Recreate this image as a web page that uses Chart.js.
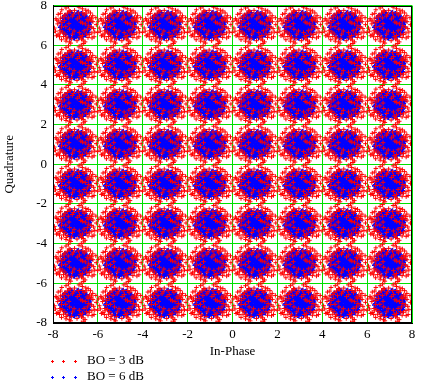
<!DOCTYPE html>
<html lang="en">
<head>
    <meta charset="UTF-8">
    <title>64-QAM constellation</title>
    <script src="https://cdn.jsdelivr.net/npm/chart.js"></script>
    <style>
        html, body { margin: 0; padding: 0; background: #fff; }
        #wrap { width: 421px; height: 389px; }
    </style>
</head>
<body>
<div id="wrap"><canvas id="qam" width="421" height="389"></canvas></div>
<script>
// constellation levels on both axes
var levels = [-7, -5, -3, -1, 1, 3, 5, 7];
var tickStep = 2;
var seriesLabels = ['BO = 3 dB', 'BO = 6 dB'];

// spread of the received symbols around each ideal point, read off the clouds
// BO = 3 dB: wider fringe
var redA = [
    [0.57,0.23],[-0.61,0.14],[0.13,0.63],[-0.17,-0.67],[0.49,-0.43],[-0.47,0.53],[0.71,-0.09],[-0.69,-0.27],[0.33,0.64],[-0.37,-0.59],
    [0.63,0.41],[-0.66,0.37],[0.27,-0.69],[-0.23,0.71],[0.78,0.19],[-0.79,0.08],[0.07,-0.77],[-0.04,0.76],[0.56,-0.61],[-0.53,-0.56],
    [0.44,0.08],[-0.43,-0.06],[0.18,0.43],[-0.13,-0.44],[0.38,-0.27],[-0.32,0.38],[0.86,-0.33],[-0.87,0.34],[0.46,0.77],[-0.42,-0.79],
    [0.67,0.63],[-0.71,-0.57],[0.24,0.17],[-0.26,-0.19],[0.52,0.31],[-0.49,0.24],[0.31,-0.51],[-0.09,0.57],[0.73,-0.38],[-0.66,0.61],
    [0.93,0.04],[-0.94,-0.13],[0.16,0.92],[-0.21,-0.89],[0.59,-0.02],[-0.57,-0.33],[0.39,0.53],[-0.47,-0.43],[0.77,0.49],[-0.78,-0.47]
];
var redB = [
    [0.53,-0.19],[-0.36,0.62],[0.21,-0.57],[-0.62,-0.07],[0.08,0.33],[-0.06,-0.28],[0.32,0.12],[-0.29,0.09],[0.83,-0.57],[-0.61,0.79],
    [0.43,-0.83],[-0.84,-0.52],[0.69,0.27],[-0.74,0.22],[0.17,-0.36],[-0.14,0.47],[1.02,0.21],[-0.31,0.97],[0.26,-0.99],[-1.01,-0.36],
    [0.72,0.36],[-0.68,-0.39],[0.34,-0.74],[-0.28,0.74],[0.81,-0.16],[-0.83,0.27],[0.31,0.84],[-0.27,-0.83],[0.57,0.73],[-0.62,-0.72],
    [0.74,-0.63],[-0.77,0.56],[0.91,0.39],[-0.89,-0.29],[0.37,-0.91],[-0.42,0.88],[0.48,0.62],[-0.52,0.44],[0.62,-0.46],[-0.41,-0.68]
];
// BO = 6 dB: tight blob
var blueA = [
    [0.03,-0.07],[0.17,0.11],[-0.13,0.19],[-0.21,-0.09],[0.27,-0.18],[0.09,0.29],[-0.31,0.13],[-0.07,-0.33],[0.36,0.07],[-0.26,-0.27],
    [0.13,-0.23],[-0.17,0.37],[0.41,0.23],[-0.39,-0.11],[0.23,0.43],[-0.03,0.14],[0.07,-0.41],[-0.44,0.26],[0.31,-0.37],[-0.23,0.03],
    [0.47,-0.06],[-0.12,-0.17],[0.19,0.04],[-0.34,0.41],[0.02,0.47],[-0.49,-0.29],[0.38,0.37],[-0.08,0.27],[0.11,-0.13],[-0.29,-0.43],
    [0.53,0.14],[-0.53,0.07],[0.16,-0.52],[-0.14,0.53],[0.44,-0.31],[-0.41,-0.37],[0.29,0.19],[-0.19,-0.01],[0.06,0.38],[0.24,-0.08],
    [-0.36,0.22],[0.14,0.21],[-0.04,-0.46],[0.33,-0.26],[-0.27,0.31],[0.57,-0.21],[-0.58,-0.16],[0.21,0.56],[-0.22,-0.56],[0.49,0.33]
];
var blueB = [
    [-0.01,0.03],[0.08,0.16],[-0.09,-0.13],[0.22,-0.04],[-0.18,0.09],[0.12,-0.29],[-0.06,0.22],[0.31,0.27],[-0.33,-0.19],[0.26,0.09],
    [-0.24,0.23],[0.04,-0.21],[0.37,-0.14],[-0.42,0.04],[0.18,0.33],[-0.11,-0.28],[0.42,0.11],[-0.31,0.36],[0.09,-0.36],[-0.16,0.29],
    [0.28,-0.44],[-0.46,-0.22],[0.47,0.27],[-0.06,0.43],[0.14,0.13],[-0.21,-0.36],[0.34,0.47],[-0.38,0.17],[0.21,-0.16],[-0.12,0.06],
    [0.51,-0.13],[-0.51,0.19],[0.03,-0.53],[-0.27,0.48],[0.39,-0.41],[-0.44,-0.44],[0.23,0.26],[-0.16,-0.07],[0.07,0.07],[0.31,-0.03],
    [-0.32,-0.04],[0.12,0.48],[-0.02,-0.12],[0.44,0.02],[-0.37,0.29],[0.61,0.06],[-0.62,-0.03],[0.08,0.61],[-0.09,-0.61],[0.56,-0.34]
];
var blueC = [
    [0.59,0.24],[-0.56,0.36],[0.46,-0.47],[-0.54,-0.31],[0.27,0.59],[-0.33,0.56],[0.33,-0.57],[-0.24,-0.62],[0.64,-0.07],[-0.63,0.13],
    [0.13,0.64],[-0.04,-0.63],[0.42,0.51],[-0.47,0.49],[0.52,-0.27],[-0.59,-0.22],[0.16,-0.61],[-0.17,0.64],[0.66,0.17],[-0.66,-0.09],
    [0.37,0.09],[-0.28,-0.14],[0.19,-0.31],[-0.11,0.41],[0.26,0.38],[-0.41,-0.06],[0.01,0.26],[0.48,0.42],[-0.46,0.13],[0.11,-0.47]
];

// put a cloud on every constellation point
function buildPoints(clouds) {
    var pts = [];
    levels.forEach(function (i) {
        levels.forEach(function (q) {
            clouds.forEach(function (cloud) {
                cloud.forEach(function (d) {
                    pts.push({ x: i + d[0], y: q + d[1] });
                });
            });
        });
    });
    return pts;
}

var serif = '"Liberation Serif", "Times New Roman", serif';

// legend drawn by hand: three small crosses and a label per row, under the axis
var sideLegend = {
    id: 'sideLegend',
    afterDraw: function (chart) {
        var ctx = chart.ctx;
        ctx.save();
        chart.data.datasets.forEach(function (ds, k) {
            var y = 361 + k * 16;
            ctx.fillStyle = ds.borderColor;
            [52, 63, 75].forEach(function (x) {
                ctx.fillRect(x - 1, y, 3, 1);
                ctx.fillRect(x, y - 1, 1, 3);
            });
            ctx.fillStyle = '#000';
            ctx.font = '13px ' + serif;
            ctx.textBaseline = 'middle';
            ctx.fillText(ds.label, 87, y);
        });
        ctx.restore();
    }
};

var ctx = document.getElementById('qam').getContext('2d');
var chart = new Chart(ctx, {
    type: 'scatter',
    data: {
        datasets: [{
            label: seriesLabels[0],
            data: buildPoints([redA, redB]),
            pointStyle: 'cross',
            pointRadius: 2.3,
            borderWidth: 1,
            borderColor: '#ff0000',
            backgroundColor: '#ff0000'
        }, {
            label: seriesLabels[1],
            data: buildPoints([blueA, blueB, blueC]),
            pointStyle: 'cross',
            pointRadius: 2.8,
            borderWidth: 1.6,
            borderColor: '#0000ff',
            backgroundColor: '#0000ff'
        }]
    },
    options: {
        responsive: false,
        animation: false,
        events: [],
        layout: { padding: { top: 4, right: 9, left: 0, bottom: 0 } },
        plugins: { legend: { display: false }, tooltip: { enabled: false } },
        scales: {
            x: {
                type: 'linear',
                min: -8, max: 8,
                afterFit: function (s) { s.height = 66; s.paddingLeft = 0; s.paddingRight = 0; },
                grid: { color: '#00e000', drawTicks: false, lineWidth: 1 },
                border: { color: '#000', width: 1 },
                ticks: { stepSize: tickStep, color: '#000', padding: 4, maxRotation: 0, font: { family: serif, size: 13 } },
                title: { display: true, text: 'In-Phase', color: '#000', font: { family: serif, size: 13 }, padding: { top: 0, bottom: 30 } }
            },
            y: {
                type: 'linear',
                min: -8, max: 8,
                afterFit: function (s) { s.width = 53; s.paddingTop = 0; s.paddingBottom = 0; },
                grid: { color: '#00e000', drawTicks: false, lineWidth: 1 },
                border: { color: '#000', width: 1 },
                ticks: { stepSize: tickStep, color: '#000', padding: 6, font: { family: serif, size: 13 } },
                title: { display: true, text: 'Quadrature', color: '#000', font: { family: serif, size: 13 }, padding: { top: 2, bottom: 0 } }
            }
        }
    },
    plugins: [sideLegend, {
        id: 'frame',
        afterDatasetsDraw: function (chart) {
            var a = chart.chartArea, c = chart.ctx;
            c.save();
            c.strokeStyle = '#000';
            c.lineWidth = 1;
            c.strokeRect(Math.round(a.left) + 0.5, Math.round(a.top) + 0.5, Math.round(a.right - a.left) - 1, Math.round(a.bottom - a.top) - 1);
            c.restore();
        }
    }]
});
</script>
</body>
</html>
